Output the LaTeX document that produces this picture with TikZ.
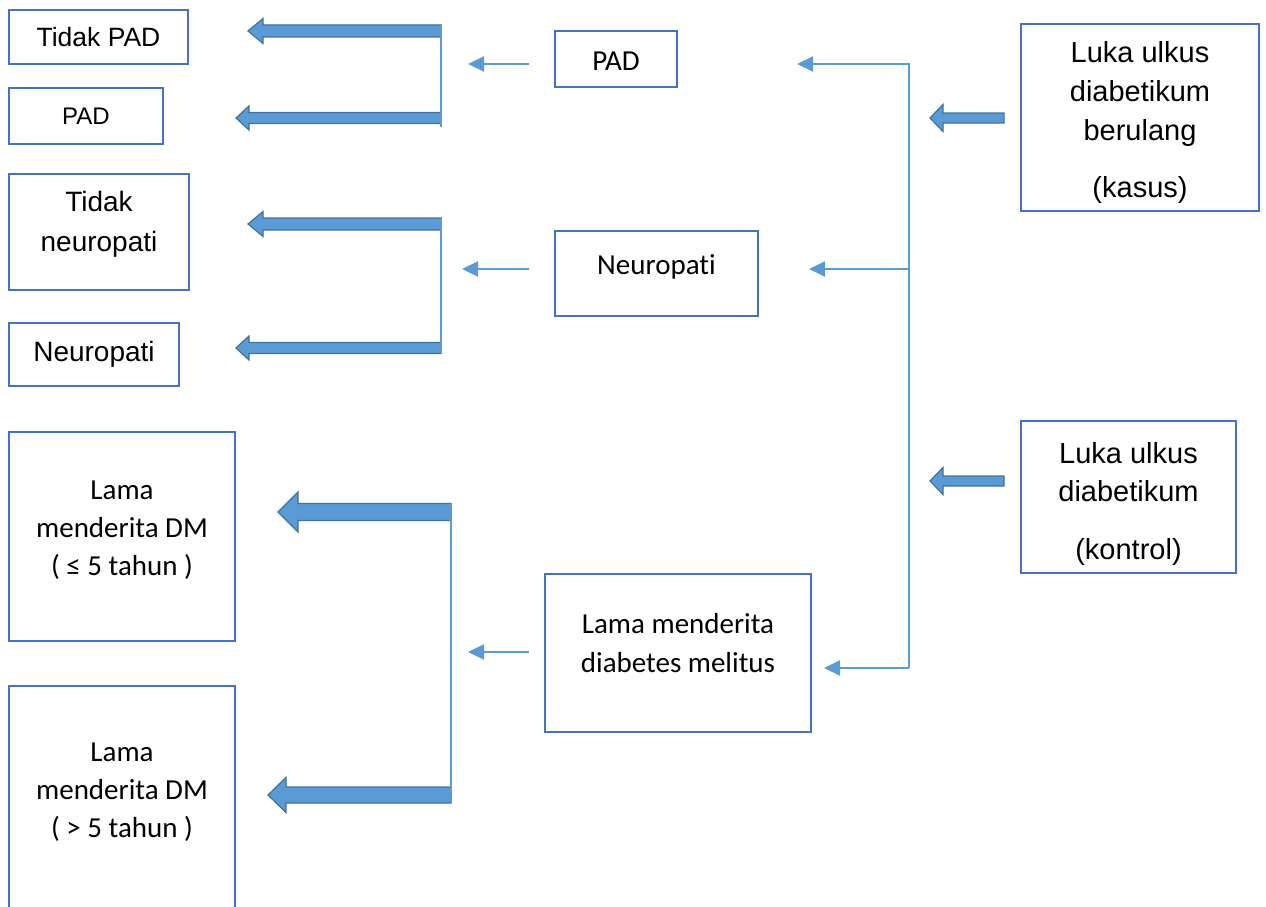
\documentclass[tikz,border=0pt]{standalone}
\usepackage{fontspec}
\setmainfont{Liberation Sans}
\newfontfamily\calibri[Ligatures=NoCommon]{Carlito}
\usetikzlibrary{calc,arrows.meta}
\definecolor{boxblue}{HTML}{4472C4}
\definecolor{arrfill}{HTML}{5B9BD5}
\definecolor{arrline}{HTML}{41719C}
\definecolor{thinblue}{HTML}{5B9BD5}
% wide arrow: tail, tip, half shaft, half head, head length
\newcommand{\widearrow}[5]{%
  \filldraw[fill=arrfill,draw=arrline,line width=1.2pt,line join=miter]
    ($(#1)+(0,#3)$) -- ($(#2)+(#5,#3)$) -- ($(#2)+(#5,#4)$) -- (#2)
    -- ($(#2)+(#5,-#4)$) -- ($(#2)+(#5,-#3)$) -- ($(#1)+(0,-#3)$) -- cycle;}
\begin{document}
\begin{tikzpicture}[x=1pt,y=-1pt,
  box/.style={draw=boxblue,line width=2pt,inner sep=0pt,align=center},
  arial/.style={font=\fontsize{28}{39}\selectfont},
  calib/.style={font=\calibri\fontsize{29}{38}\selectfont},
  txt/.style={align=center,inner sep=0pt},
  thinarr/.style={draw=thinblue,line width=2pt,-{Triangle[length=16pt,width=15pt]}},
  stem/.style={draw=thinblue,line width=1.2pt}]
\useasboundingbox (0,0) rectangle (1266,907);
% left column
\node[box,minimum width=179,minimum height=54,font=\fontsize{26.5}{32}\selectfont] (tpad) at (98.5,37) {Tidak PAD};
\node[box,minimum width=154,minimum height=56,font=\fontsize{24}{30}\selectfont] (pad) at (86,116) {PAD};
\node[box,minimum width=180,minimum height=116,
  label={[txt,yshift=8pt,font=\fontsize{28}{40}\selectfont]center:{Tidak\\neuropati}}] (tneu) at (99,232) {};
\node[box,minimum width=170,minimum height=63,arial] (neu) at (94,354.5) {Neuropati};
\node[box,minimum width=226,minimum height=209,
  label={[txt,yshift=6.5pt,calib]center:{Lama\\menderita DM\\( ≤ 5 tahun )}}] (lama1) at (122,536.5) {};
\node[box,minimum width=226,minimum height=240,
  label={[txt,yshift=14pt,calib]center:{Lama\\menderita DM\\( > 5 tahun )}}] (lama2) at (122,806) {};
% middle column
\node[box,minimum width=122,minimum height=56,
  label={[txt,yshift=-2pt,calib]center:{PAD}}] (padm) at (616,59) {};
\node[box,minimum width=203,minimum height=85,
  label={[txt,yshift=7pt,calib]center:{Neuropati}}] (neum) at (656.5,273.5) {};
\node[box,minimum width=266,minimum height=158,
  label={[txt,yshift=10pt,font=\calibri\fontsize{29}{39}\selectfont]center:{Lama menderita\\diabetes melitus}}] (lamam) at (678,653) {};
% right column
\node[box,minimum width=238,minimum height=187,
  label={[txt,yshift=-5pt,font=\fontsize{29}{39}\selectfont]center:{Luka ulkus\\diabetikum\\berulang\\[18pt](kasus)}}] (kasus) at (1140,117.5) {};
\node[box,minimum width=215,minimum height=152,
  label={[txt,yshift=-7pt,font=\fontsize{29}{38}\selectfont]center:{Luka ulkus\\diabetikum\\[20pt](kontrol)}}] (kontrol) at (1128.5,497) {};
% wide arrows
\coordinate (a1) at (441,31);  \coordinate (a1t) at (248,31);
\coordinate (a2) at (441,118); \coordinate (a2t) at (236,118);
\coordinate (a3) at (441,224); \coordinate (a3t) at (248,224);
\coordinate (a4) at (441,348); \coordinate (a4t) at (236,348);
\coordinate (a5) at (451,512); \coordinate (a5t) at (278,512);
\coordinate (a6) at (451,795); \coordinate (a6t) at (268,795);
\coordinate (a7) at (1004,118); \coordinate (a7t) at (930,118);
\coordinate (a8) at (1004,481); \coordinate (a8t) at (930,481);
\widearrow{a1}{a1t}{6}{12.5}{15}
\widearrow{a2}{a2t}{5.5}{12}{13}
\widearrow{a3}{a3t}{6}{12.5}{15}
\widearrow{a4}{a4t}{5.5}{12}{13}
\widearrow{a5}{a5t}{8.5}{20}{20}
\widearrow{a6}{a6t}{8}{17.5}{18}
\widearrow{a7}{a7t}{5}{13.5}{13}
\widearrow{a8}{a8t}{5}{13.5}{13}
% brackets
\draw[stem,line width=1.2pt] (441,24) -- (441,127);
\draw[stem,line width=1.2pt] (441,217) -- (441,353);
\draw[stem,line width=1.2pt] (451,504) -- (451,801);
\coordinate (trt) at (909,63); \coordinate (trb) at (909,668);
\draw[stem,line width=1.5pt] (trt) -- (trb);
% thin arrows
\coordinate (t1) at (909,64);  \coordinate (t1e) at (797,64);
\coordinate (t2) at (909,269); \coordinate (t2e) at (809,269);
\coordinate (t3) at (909,668); \coordinate (t3e) at (824,668);
\draw[thinarr] (t1) -- (t1e);
\draw[thinarr] (t2) -- (t2e);
\draw[thinarr] (t3) -- (t3e);
\coordinate (m1) at (529,64);  \coordinate (m1e) at (468,64);
\coordinate (m2) at (529,269); \coordinate (m2e) at (462,269);
\coordinate (m3) at (529,652); \coordinate (m3e) at (468,652);
\draw[thinarr] (m1) -- (m1e);
\draw[thinarr] (m2) -- (m2e);
\draw[thinarr] (m3) -- (m3e);
\end{tikzpicture}
\end{document}
